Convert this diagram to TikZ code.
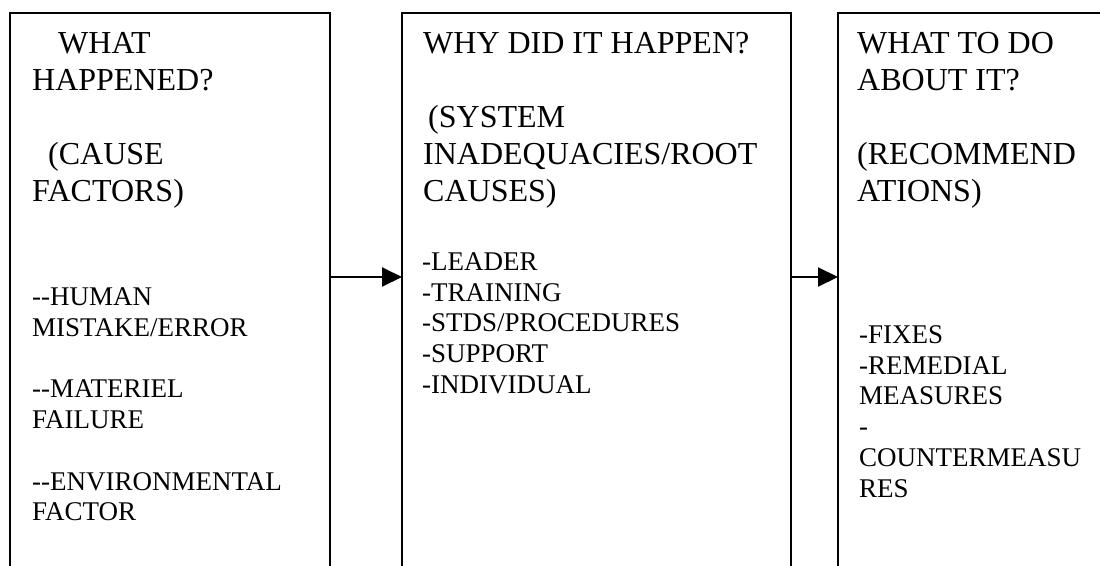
\documentclass[tikz,border=0pt]{standalone}
\usepackage{fontspec}
\setmainfont{Liberation Serif}[Ligatures=TeXOff]
\usetikzlibrary{arrows.meta}

\tikzset{
  area/.style={draw=none, inner sep=0pt, outer sep=0pt, minimum height=528pt, anchor=north west},
  frame/.style={draw=black, line width=2pt},
  link/.style={draw=black, line width=2pt, -{Triangle[length=20pt,width=19pt]}},
  hdr/.style={inner sep=0pt, anchor=north west, align=left, font=\fontsize{32}{37}\selectfont},
  lst/.style={inner sep=0pt, anchor=north west, align=left, font=\fontsize{27}{30.8}\selectfont},
}
\newcommand{\hstrut}{\rule{0pt}{30pt}}
\newcommand{\lstrut}{\rule{0pt}{25pt}}

\begin{document}
\begin{tikzpicture}[x=1pt, y=-1pt]
  \useasboundingbox (0,0) rectangle (1100,565);
  \clip (0,0) rectangle (1100,565);
  \fill[white] (0,0) rectangle (1100,565);

  % three column areas (open at the bottom)
  \node[area, minimum width=320pt] (box1) at (10,13) {};
  \node[area, minimum width=389pt] (box2) at (402,13) {};
  \node[area, minimum width=300pt] (box3) at (838,13) {};

  \foreach \b in {box1,box2,box3}{
    \draw[frame] ([yshift=-60pt]\b.south west) -- (\b.north west)
      -- (\b.north east) -- ([yshift=-60pt]\b.south east);
  }

  % headings
  \node[hdr] (h1) at (32,23) {\hstrut\hspace*{26pt}WHAT\\HAPPENED?\\[37pt]\hspace*{16pt}(CAUSE\\FACTORS)};
  \node[hdr] (h2) at (423,23) {\hstrut WHY DID IT HAPPEN?\\[37pt]\hspace*{5pt}(SYSTEM\\INADEQUACIES/ROOT\\CAUSES)};
  \node[hdr] (h3) at (857,23) {\hstrut WHAT TO DO\\ABOUT IT?\\[37pt](RECOMMEND\\ATIONS)};

  % item lists
  \node[lst] (l1) at (32,280) {\lstrut --HUMAN\\MISTAKE/ERROR\\[30.8pt]--MATERIEL\\FAILURE\\[30.8pt]--ENVIRONMENTAL\\FACTOR};
  \node[lst] (l2) at (422,245) {\lstrut -LEADER\\-TRAINING\\-STDS/PROCEDURES\\-SUPPORT\\-INDIVIDUAL};
  \node[lst] (l3) at (859,318) {\lstrut -FIXES\\-REMEDIAL\\MEASURES\\-\\COUNTERMEASU\\RES};

  % connectors
  \draw[link] (box1.east) -- (box2.west);
  \draw[link] (box2.east) -- (box3.west);
\end{tikzpicture}
\end{document}
